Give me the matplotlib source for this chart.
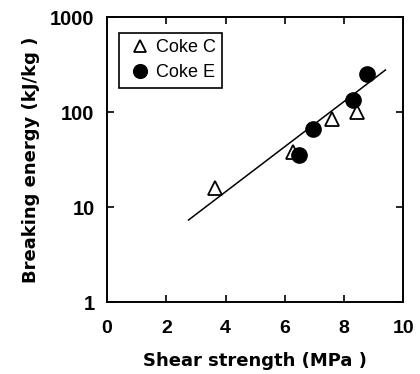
import matplotlib

matplotlib.use("Agg")
import matplotlib.pyplot as plt
import numpy as np

plt.rcParams["font.family"] = ["Liberation Sans", "DejaVu Sans"]

# Coke C (open triangles)
coke_c_x = [3.65, 6.27, 7.6, 8.43]
coke_c_y = [15.8, 38, 84, 100]
# Coke E (filled circles)
coke_e_x = [6.49, 6.94, 8.29, 8.77]
coke_e_y = [35, 66, 134, 251]
# fitted line end points
fit_x = [2.75, 9.4]
fit_y = [7.3, 277]

x_ticks = [0, 2, 4, 6, 8, 10]
y_ticks = [1, 10, 100, 1000]

fig = plt.figure(figsize=(4.2, 3.74), dpi=100)
ax = fig.add_axes([0.255, 0.1925, 0.705, 0.762])

ax.plot(fit_x, fit_y, color="black", linewidth=1.1)
ax.plot(coke_c_x, coke_c_y, linestyle="none", marker="^", markersize=10,
        markerfacecolor="white", markeredgecolor="black", markeredgewidth=1.3,
        label="Coke C")
ax.plot(coke_e_x, coke_e_y, linestyle="none", marker="o", markersize=11,
        color="black", label="Coke E")

ax.set_yscale("log")
ax.set_xlim(0, 10)
ax.set_ylim(1, 1000)
ax.set_xticks(x_ticks)
ax.set_xticklabels([str(t) for t in x_ticks], fontweight="bold", fontsize=14)
ax.set_yticks(y_ticks)
ax.set_yticklabels([str(t) for t in y_ticks], fontweight="bold", fontsize=14.5)
ax.yaxis.set_minor_locator(matplotlib.ticker.NullLocator())
ax.tick_params(direction="in", length=5, width=1.2, top=True, right=True)
ax.tick_params(axis="x", pad=13)
ax.tick_params(axis="y", pad=9)
for s in ax.spines.values():
    s.set_linewidth(1.4)

ax.set_xlabel("Shear strength (MPa )", fontweight="bold", fontsize=13,
              family="DejaVu Sans", labelpad=11)
ax.set_ylabel("Breaking energy (kJ/kg )", fontweight="bold", fontsize=13,
              family="DejaVu Sans", labelpad=7)

leg = ax.legend(loc="upper left", bbox_to_anchor=(0.04, 0.944), borderaxespad=0,
                fontsize=13, fancybox=False, framealpha=1, edgecolor="black",
                handletextpad=0.1, handlelength=1.6, borderpad=0.35,
                labelspacing=0.45, markerscale=0.9)
leg.get_frame().set_linewidth(1.2)

fig.savefig("out.png", dpi=100)
